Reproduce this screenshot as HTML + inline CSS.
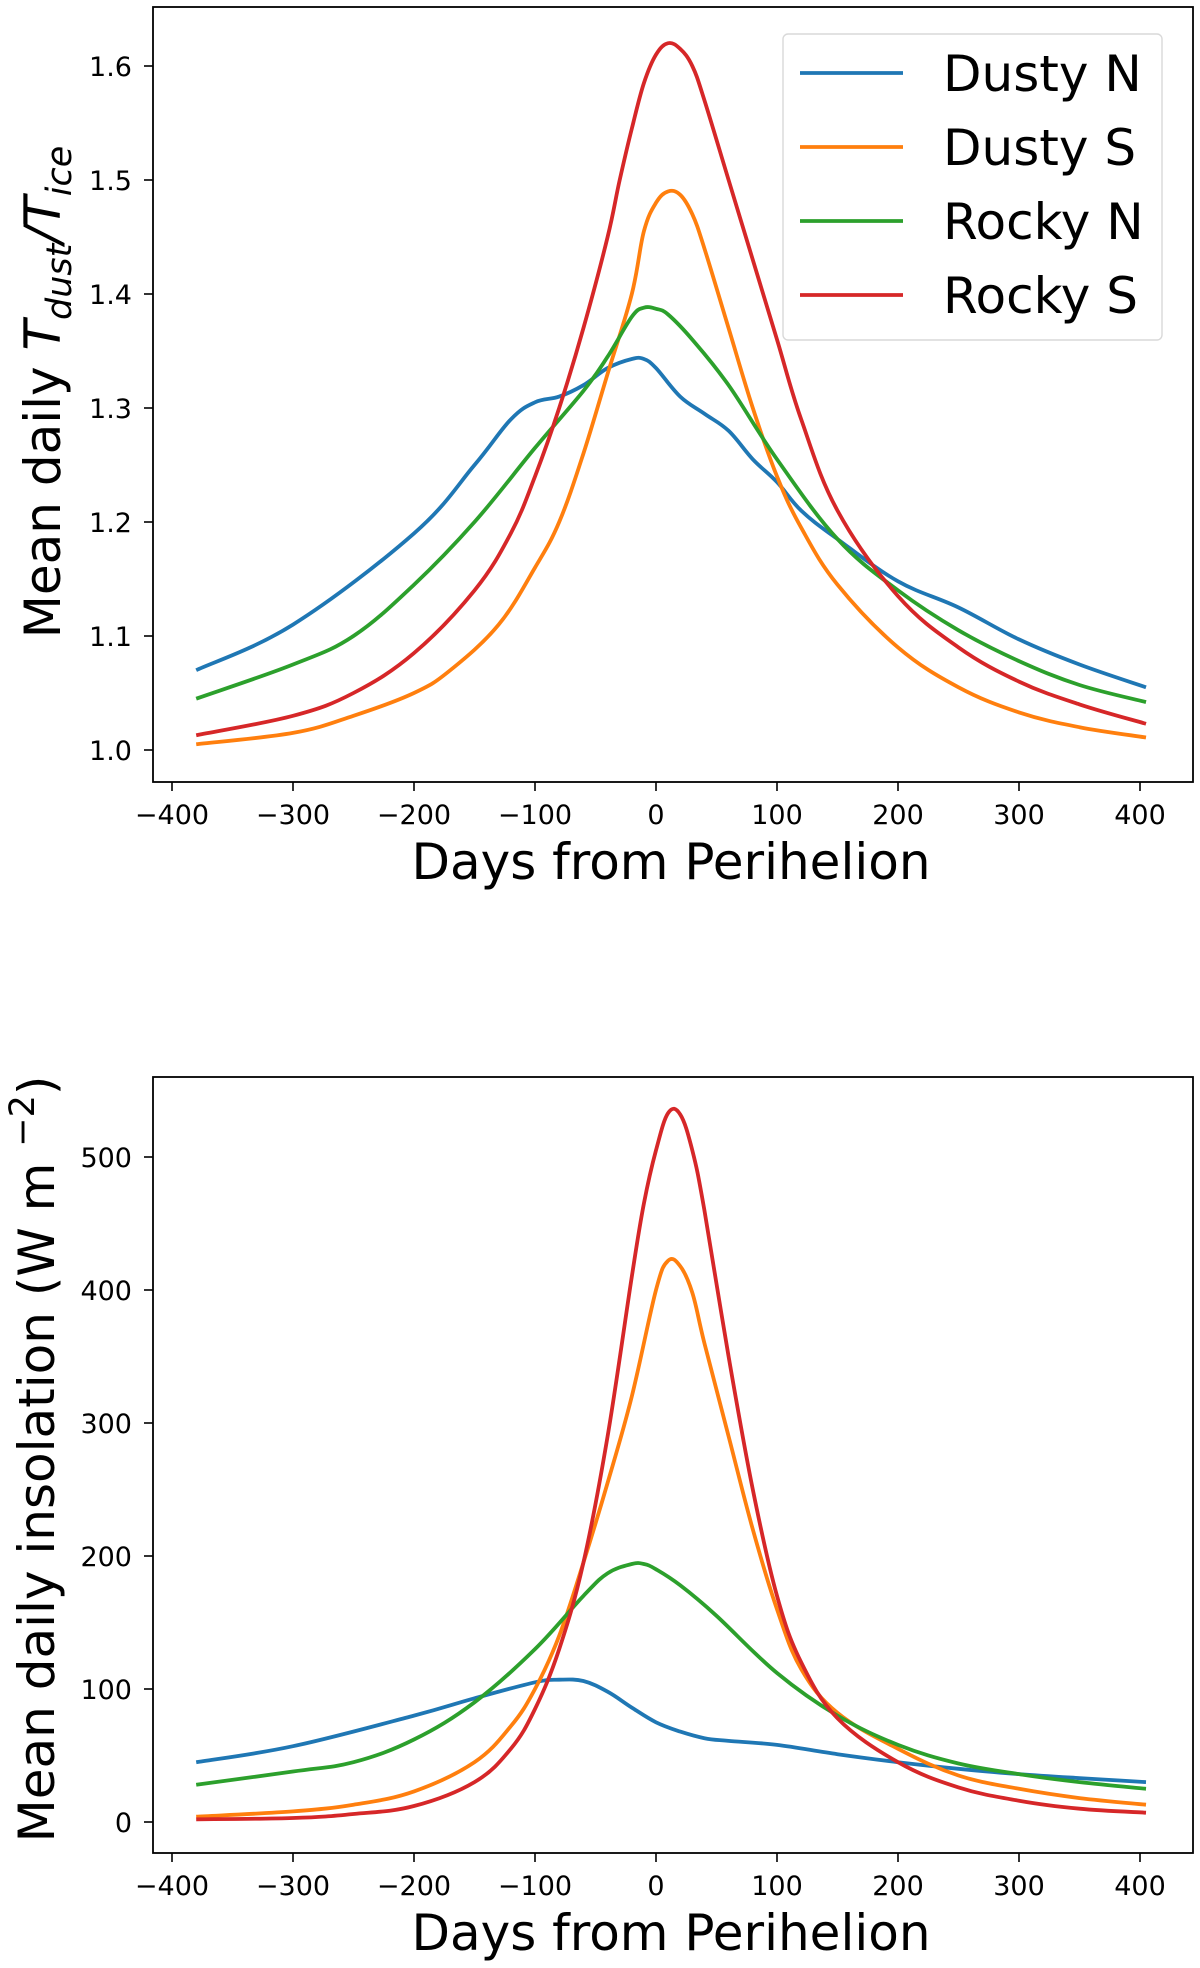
<!DOCTYPE html>
<html><head><meta charset="utf-8"><style>
body{margin:0;background:#fff}
svg{display:block;font-family:"DejaVu Sans","Liberation Sans",sans-serif}
</style></head><body>
<svg id="fig" width="1200" height="1968" viewBox="0 0 1200 1968"></svg>
<script>
// ---- data ----
const xTicks = [-400,-300,-200,-100,0,100,200,300,400];
const topYTicks = [1.0,1.1,1.2,1.3,1.4,1.5,1.6];
const botYTicks = [0,100,200,300,400,500];
const seriesNames = ["Dusty N","Dusty S","Rocky N","Rocky S"];
const colors = ["#1f77b4","#ff7f0e","#2ca02c","#d62728"];

const topDustyNDays = [-380,-300,-200,-150,-120,-100,-80,-60,-40,-20,-10,0,20,40,60,80,100,120,150,200,250,300,350,405];
const topDustyNVals = [1.07,1.11,1.19,1.25,1.29,1.305,1.31,1.32,1.335,1.343,1.343,1.335,1.31,1.295,1.28,1.255,1.235,1.21,1.185,1.148,1.125,1.097,1.075,1.055];
const topDustySDays = [-380,-300,-250,-200,-170,-130,-100,-80,-60,-40,-20,-10,0,10,20,30,40,60,80,100,120,150,200,250,300,350,405];
const topDustySVals = [1.005,1.015,1.03,1.05,1.07,1.11,1.16,1.2,1.26,1.33,1.4,1.455,1.48,1.49,1.487,1.47,1.44,1.37,1.3,1.24,1.195,1.145,1.09,1.055,1.033,1.02,1.011];
const topRockyNDays = [-380,-300,-250,-200,-150,-100,-60,-40,-20,-10,0,10,30,60,100,150,200,250,300,350,405];
const topRockyNVals = [1.045,1.075,1.1,1.145,1.2,1.265,1.315,1.345,1.38,1.388,1.387,1.382,1.36,1.32,1.255,1.185,1.14,1.105,1.078,1.057,1.042];
const topRockySDays = [-380,-300,-250,-200,-150,-120,-100,-80,-60,-40,-30,-20,-10,0,10,20,30,40,60,80,100,120,150,200,250,300,350,405];
const topRockySVals = [1.013,1.03,1.05,1.085,1.14,1.19,1.24,1.3,1.37,1.45,1.5,1.545,1.585,1.61,1.62,1.615,1.6,1.57,1.5,1.43,1.36,1.29,1.21,1.135,1.09,1.06,1.04,1.023];

const botDustyNDays = [-380,-300,-200,-150,-100,-80,-60,-40,-20,0,20,40,60,100,150,200,250,300,350,405];
const botDustyNVals = [45,57,80,93,105,107,106,98,86,75,68,63,61,58,51,45,40,36,33,30];
const botDustySDays = [-380,-300,-250,-200,-150,-120,-100,-80,-60,-40,-20,0,10,20,30,40,60,80,100,120,150,200,250,300,350,405];
const botDustySVals = [4,8,13,23,45,72,100,140,195,255,320,400,422,418,398,360,290,220,160,115,82,55,35,25,18,13];
const botRockyNDays = [-380,-300,-250,-200,-150,-100,-60,-40,-20,-10,0,20,50,100,150,200,250,300,350,405];
const botRockyNVals = [28,38,45,62,90,130,170,187,194,194,190,178,155,112,80,58,44,36,30,25];
const botRockySDays = [-380,-300,-250,-200,-150,-120,-100,-80,-60,-40,-20,-10,0,10,20,30,40,60,80,100,120,150,200,250,300,350,405];
const botRockySVals = [2,3,6,12,30,55,85,130,195,290,410,465,505,533,532,505,460,350,250,170,120,78,45,26,16,10,7];

const NS = "http://www.w3.org/2000/svg";
const svg = document.getElementById("fig");
function el(tag, attrs, parent){const e=document.createElementNS(NS,tag);for(const k in attrs)e.setAttribute(k,attrs[k]);(parent||svg).appendChild(e);return e;}

function xScale(d){return 656 + d*1.21;}

function smoothPath(P){
  let d = "M"+P[0][0].toFixed(1)+","+P[0][1].toFixed(1);
  for(let i=0;i<P.length-1;i++){
    const p0=P[Math.max(0,i-1)],p1=P[i],p2=P[i+1],p3=P[Math.min(P.length-1,i+2)];
    const t=0.18;
    const c1x=p1[0]+(p2[0]-p0[0])*t, c1y=p1[1]+(p2[1]-p0[1])*t;
    const c2x=p2[0]-(p3[0]-p1[0])*t, c2y=p2[1]-(p3[1]-p1[1])*t;
    d+=" C"+c1x.toFixed(1)+","+c1y.toFixed(1)+" "+c2x.toFixed(1)+","+c2y.toFixed(1)+" "+p2[0].toFixed(1)+","+p2[1].toFixed(1);
  }
  return d;
}

function drawPanel(p){
  const g = el("g",{});
  
  
  const y = v => p.y0 + (v - p.v0) * (p.y1 - p.y0) / (p.v1 - p.v0);
  p.series.forEach((s,i)=>{
    const P = s.days.map((d,j)=>[xScale(d), y(s.vals[j])]);
    const pl = el("path",{d:smoothPath(P),fill:"none",stroke:colors[i],"stroke-width":3.8,"stroke-linejoin":"round","stroke-linecap":"butt"},g);
    
    
  });
  const fr = el("rect",{x:p.left,y:p.top,width:p.right-p.left,height:p.bottom-p.top,fill:"none",stroke:"#000","stroke-width":1.8},g);
  
  
  xTicks.forEach(t=>{
    const x = xScale(t);
    el("line",{x1:x,x2:x,y1:p.bottom,y2:p.bottom+9,stroke:"#000","stroke-width":1.6},g);
    const tx = el("text",{x:x,y:p.bottom+42,"font-size":27,"text-anchor":"middle",fill:"#000"},g);
    tx.textContent = t<0 ? "\u2212"+(-t) : String(t);
    
    
  });
  p.yTicks.forEach(t=>{
    const yy = y(t);
    el("line",{x1:p.left-9,x2:p.left,y1:yy,y2:yy,stroke:"#000","stroke-width":1.6},g);
    const tx = el("text",{x:p.left-21,y:yy+10,"font-size":27,"text-anchor":"end",fill:"#000"},g);
    tx.textContent = p.fmt(t);
    
    
  });
  const xl = el("text",{x:671,y:p.bottom+97,"font-size":50,"text-anchor":"middle",fill:"#000"},g);
  xl.textContent = "Days from Perihelion";
  
  
  return g;
}

drawPanel({name:"top-chart",prefix:"top",left:153,right:1193,top:7,bottom:782,y0:750,y1:66,v0:1.0,v1:1.6,yTicks:topYTicks,fmt:t=>t.toFixed(1),
  series:[{days:topDustyNDays,vals:topDustyNVals},{days:topDustySDays,vals:topDustySVals},{days:topRockyNDays,vals:topRockyNVals},{days:topRockySDays,vals:topRockySVals}]});
drawPanel({name:"bottom-chart",prefix:"bottom",left:153,right:1193,top:1077,bottom:1853,y0:1822,y1:1157,v0:0,v1:500,yTicks:botYTicks,fmt:t=>String(t),
  series:[{days:botDustyNDays,vals:botDustyNVals},{days:botDustySDays,vals:botDustySVals},{days:botRockyNDays,vals:botRockyNVals},{days:botRockySDays,vals:botRockySVals}]});

const yt1 = el("text",{transform:"translate(60,392) rotate(-90)","font-size":50,"text-anchor":"middle",fill:"#000"});
yt1.innerHTML = 'Mean daily <tspan font-style="italic">T</tspan><tspan font-style="italic" font-size="35" dy="11">dust</tspan><tspan dy="-11" font-style="italic">/T</tspan><tspan font-style="italic" font-size="35" dy="11">ice</tspan>';


const yt2 = el("text",{transform:"translate(54,1459) rotate(-90)","font-size":50,"text-anchor":"middle",fill:"#000"});
yt2.innerHTML = 'Mean daily insolation (W m <tspan font-size="35" dy="-20">\u22122</tspan><tspan dy="20">)</tspan>';



const lg = el("g",{});


el("rect",{x:783,y:34,width:379,height:306,rx:5,fill:"#fff","fill-opacity":0.85,stroke:"#d9d9d9","stroke-width":1.4},lg);
seriesNames.forEach((n,i)=>{
  const yy = 73 + i*74;
  const ln = el("line",{x1:800,x2:903,y1:yy,y2:yy,stroke:colors[i],"stroke-width":3.8},lg);
  
  
  const t = el("text",{x:943,y:yy+18,"font-size":50,fill:"#000"},lg);
  t.textContent = n;
  
  
});
</script>
</body></html>
